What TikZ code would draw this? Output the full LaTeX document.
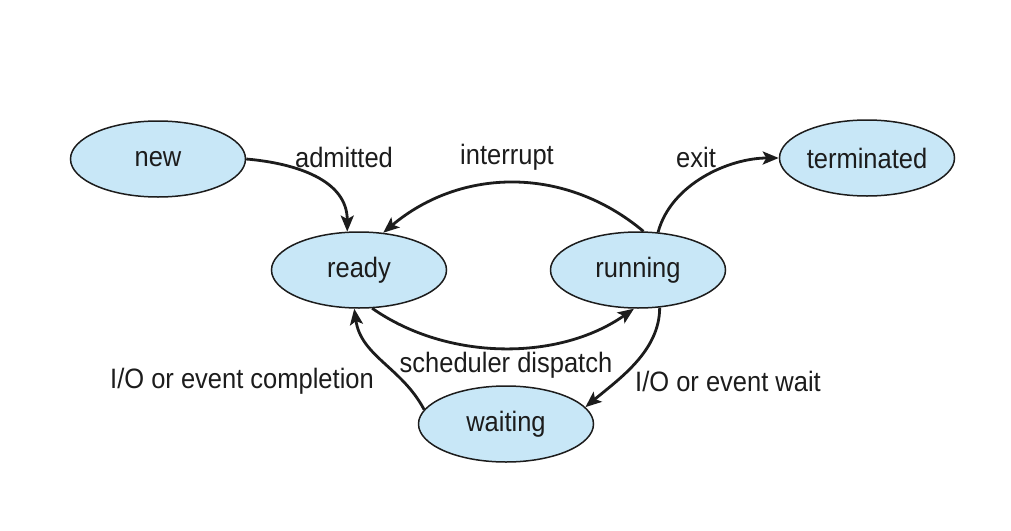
\documentclass[tikz,border=0pt]{standalone}
\usepackage{fontspec}
\setmainfont{Liberation Sans}
\usetikzlibrary{arrows.meta,shapes.geometric}
\definecolor{statefill}{RGB}{200,231,247}
\definecolor{inkdark}{RGB}{28,28,28}
% slightly tall lettering for all texts
\newcommand{\talltext}[1]{\scalebox{1}[1.1]{#1}}
\begin{document}
\begin{tikzpicture}[x=1pt,y=-1pt,
  state/.style={ellipse,draw=inkdark,line width=1.5pt,fill=statefill,
    minimum width=175pt,minimum height=76pt,inner sep=0pt,
    font=\fontsize{25.5}{30}\selectfont,text=inkdark},
  trans/.style={draw=inkdark,line width=2.8pt,
    -{Stealth[length=16pt,width=13pt,inset=3.5pt]}},
  lbl/.style={font=\fontsize{25.5}{30}\selectfont,text=inkdark,inner sep=0pt}]
\useasboundingbox (0,0) rectangle (1011,530);

% process states
\node[state] (new)  at (158,159) {\makebox[0pt]{\talltext{new}}};
\node[state] (ready) at (359,270) {\makebox[0pt]{\talltext{ready}}};
\node[state] (run)  at (638,270) {\makebox[0pt]{\talltext{running}}};
\node[state] (term) at (867,158) {\makebox[0pt]{\talltext{terminated}}};
\node[state] (wait) at (506,424) {\makebox[0pt]{\talltext{waiting}}};

% transitions
\draw[trans] (new.east) to[out=-5,in=90,looseness=1.05] (ready.107);
\draw[trans] (run.82) to[out=140,in=40] (ready.57);
\draw[trans] (run.62) to[out=75,in=180,looseness=0.9] (term.west);
\draw[trans] (ready.-71) to[out=-35,in=-145,looseness=0.9] (run.-96);
\draw[trans] (run.-60) to[out=-90,in=40,looseness=0.9] (wait.12);
\draw[trans] (wait.170) to[out=118,in=-82,looseness=1] (ready.-97);

% transition labels
\node[lbl] (ladm)  at (344,157) {\talltext{admitted}};
\node[lbl] (lint)  at (507,157) {\talltext{interrupt}};
\node[lbl] (lexit) at (696,157) {\talltext{exit}};
\node[lbl] (lsch)  at (506,365) {\talltext{scheduler dispatch}};
\node[lbl] (lcomp) at (242,381) {\talltext{I/O or event completion}};
\node[lbl] (lwait) at (728,381) {\talltext{I/O or event wait}};
\end{tikzpicture}
\end{document}
